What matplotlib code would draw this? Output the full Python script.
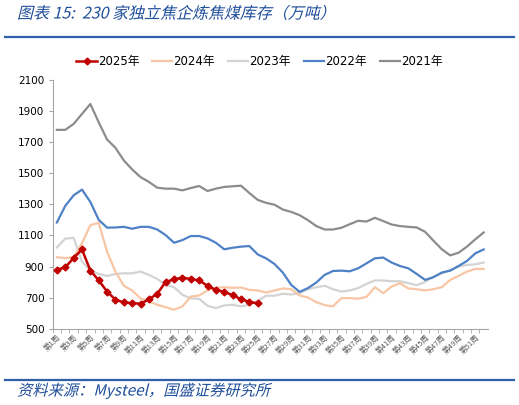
import matplotlib
matplotlib.use("Agg")
import matplotlib.pyplot as plt
from matplotlib.lines import Line2D
from matplotlib.patheffects import AbstractPathEffect
from matplotlib.transforms import Affine2D

plt.rcParams["font.family"] = ["DejaVu Sans", "Noto Sans CJK SC"]

# 周次（第1周 ~ 第52周）
weeks = list(range(1, 53))
week_labels = ["第%d周" % w for w in weeks]

# 230家独立焦企炼焦煤库存（万吨）
y2025 = [880, 895, 955, 1010, 875, 812, 740, 688, 670, 666,
         662, 690, 726, 802, 818, 830, 820, 812, 777, 751,
         738, 717, 691, 674, 664]
y2024 = [960, 955, 960, 1050, 1166, 1181, 996, 868, 777, 747,
         696, 677, 655, 640, 623, 645, 708, 715, 747, 764,
         768, 764, 766, 751, 747, 734, 747, 760, 755, 715,
         702, 672, 653, 645, 698, 698, 694, 706, 768, 730,
         772, 794, 760, 755, 747, 755, 768, 815, 840, 868,
         885, 885]
y2023 = [1023, 1079, 1085, 932, 875, 853, 840, 853, 857, 857,
         868, 847, 821, 783, 768, 719, 696, 694, 649, 634,
         651, 655, 645, 655, 680, 713, 713, 726, 721, 730,
         755, 768, 777, 755, 740, 747, 762, 789, 811, 811,
         806, 806, 794, 781, 802, 836, 857, 879, 900, 911,
         915, 926]
y2022 = [1183, 1289, 1357, 1394, 1315, 1200, 1150, 1151, 1155, 1143,
         1155, 1155, 1138, 1102, 1053, 1070, 1096, 1096, 1081, 1053,
         1011, 1021, 1028, 1032, 978, 953, 917, 862, 783, 738,
         762, 798, 847, 872, 874, 870, 889, 921, 953, 958,
         926, 904, 889, 853, 815, 832, 862, 874, 904, 936,
         985, 1010]
y2021 = [1777, 1777, 1815, 1879, 1943, 1826, 1715, 1662, 1581, 1523,
         1474, 1443, 1406, 1400, 1400, 1389, 1404, 1417, 1385, 1400,
         1411, 1415, 1419, 1372, 1328, 1309, 1297, 1266, 1251, 1230,
         1198, 1160, 1138, 1138, 1149, 1172, 1194, 1189, 1213, 1192,
         1170, 1160, 1155, 1151, 1123, 1066, 1011, 972, 989, 1028,
         1075, 1119]


# 中文字体没有斜体，用错切变换模拟
class FakeItalic(AbstractPathEffect):
    def draw_path(self, renderer, gc, tpath, affine, rgbFace=None):
        renderer.draw_path(gc, tpath, Affine2D().skew_deg(14, 0) + affine, rgbFace)


fig = plt.figure(figsize=(5.19, 4.05), dpi=100)
ax = fig.add_axes([0.1015, 0.1877, 0.8385, 0.616])

# 先画旧年份，2025年放最上面
ax.plot(weeks, y2021, color="#8C8C8C", lw=1.6, label="2021年", zorder=2)
ax.plot(weeks, y2022, color="#4F81C6", lw=1.6, label="2022年", zorder=3)
ax.plot(weeks, y2023, color="#D3D3D3", lw=1.6, label="2023年", zorder=2)
ax.plot(weeks, y2024, color="#F8C6A4", lw=1.6, label="2024年", zorder=2)
ax.plot(weeks[:len(y2025)], y2025, color="#C00000", lw=1.8, marker="D",
        markersize=3.5, label="2025年", zorder=4)

ax.set_xlim(0.5, 52.5)
ax.set_ylim(500, 2100)
ax.set_yticks(range(500, 2101, 200))
ax.tick_params(axis="y", labelsize=7.5, length=3, color="#A6A6A6", pad=3)

# 标签每隔一周显示一次
ax.set_xticks(weeks[::2])
ax.set_xticklabels(week_labels[::2], rotation=45, ha="right",
                   rotation_mode="anchor", fontsize=5.5, color="#595959",
                   family=["Noto Sans CJK SC"])
ax.tick_params(axis="x", length=0, pad=3)
ax.set_xticks([w + 0.5 for w in weeks[:-1]] + [0.5], minor=True)
ax.tick_params(axis="x", which="minor", length=3, color="#A6A6A6")

for side in ["top", "right"]:
    ax.spines[side].set_visible(False)
for side in ["left", "bottom"]:
    ax.spines[side].set_color("#A6A6A6")
    ax.spines[side].set_linewidth(0.8)

handles, labels = ax.get_legend_handles_labels()
order = [4, 3, 2, 1, 0]
fig.legend([handles[i] for i in order], [labels[i] for i in order],
           loc="center", bbox_to_anchor=(0.5, 1 - 62 / 405), ncol=5,
           frameon=False, fontsize=8.5, handlelength=1.7,
           handletextpad=0.1, columnspacing=1.1)

# 标题和来源
fig.text(17 / 519, 1 - 14 / 405, "图表 15:  230 家独立焦企炼焦煤库存（万吨）",
         fontsize=11.5, color="#1F4E9A", va="center",
         family=["Noto Sans CJK SC"], path_effects=[FakeItalic()])
fig.add_artist(Line2D([5 / 519, 514 / 519], [1 - 36.5 / 405, 1 - 36.5 / 405],
                      color="#2E5FA8", lw=1.6))
fig.add_artist(Line2D([5 / 519, 514 / 519], [1 - 380 / 405, 1 - 380 / 405],
                      color="#2E5FA8", lw=1.6))
fig.text(17 / 519, 1 - 391 / 405, "资料来源：Mysteel，国盛证券研究所",
         fontsize=11, color="#1F4E9A", va="center",
         family=["Noto Sans CJK SC"], path_effects=[FakeItalic()])

fig.savefig("out.png", dpi=100)
